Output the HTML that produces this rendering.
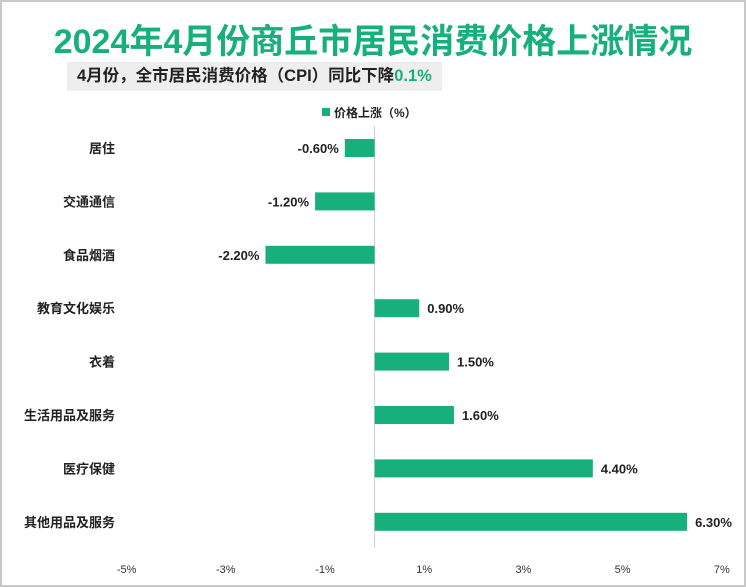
<!DOCTYPE html>
<html><head><meta charset="utf-8"><style>
body{margin:0;background:#fff;font-family:"Liberation Sans","Noto Sans CJK SC",sans-serif}
#wrap{position:relative;width:742px;height:583px;border:2px solid #c8c8c8;overflow:hidden}
#title{position:absolute;left:0;width:742px;top:12px;text-align:center;font-size:34px;font-weight:bold;color:#17b07c;letter-spacing:0px}
#sub{position:absolute;left:65px;top:60px;width:375px;height:29px;background:#eeeeee;font-size:16.5px;font-weight:bold;line-height:29px;padding-left:10px;box-sizing:border-box;color:#222;white-space:nowrap}
svg{position:absolute;left:0;top:0}
</style></head><body>
<div id="wrap">
<div id="title">2024年4月份商丘市居民消费价格上涨情况</div>
<div id="sub">4月份，全市居民消费价格（CPI）同比下降<span style="color:#17b07c">0.1%</span></div>
<svg id="c" width="742" height="583"></svg>
</div>
<script>
const categories=["居住","交通通信","食品烟酒","教育文化娱乐","衣着","生活用品及服务","医疗保健","其他用品及服务"];
const values=[-0.6,-1.2,-2.2,0.9,1.5,1.6,4.4,6.3];
const ticks=[-5,-3,-1,1,3,5,7];
const svg=document.getElementById('c');
const NS='http://www.w3.org/2000/svg';
const x=v=>372.6+v*49.6;
const y=i=>146+i*53.4;
function mk(t,a,txt){const e=document.createElementNS(NS,t);for(const k in a)e.setAttribute(k,a[k]);if(txt!=null)e.textContent=txt;svg.appendChild(e);return e;}
const ax=mk('line',{x1:x(0),x2:x(0),y1:124,y2:546,stroke:'#d0d0d0','stroke-width':1});


const lg=mk('rect',{x:320,y:106,width:8,height:8,fill:'#17b07c'});


const lt=mk('text',{x:332,y:115,'font-size':12,'font-weight':'bold',fill:'#222'},'价格上涨（%）');


categories.forEach((c,i)=>{
 const v=values[i],cy=y(i);
 const r=mk('rect',{x:Math.min(x(0),x(v)),y:cy-9,width:Math.abs(x(v)-x(0)),height:18,fill:'#17b07c'});
 
 
 const l=mk('text',{x:113,y:cy+5,'text-anchor':'end','font-size':13,'font-weight':'bold',fill:'#222'},c);
 
 
 const vx=v<0?x(v)-6:x(v)+8;
 const t=mk('text',{x:vx,y:cy+5,'text-anchor':v<0?'end':'start','font-size':13,'font-weight':'bold',fill:'#222'},v.toFixed(2)+'%');
 
 
});
ticks.forEach(t=>{
 const e=mk('text',{x:x(t),y:571,'text-anchor':'middle','font-size':11,fill:'#333'},t+'%');
 
 
});
</script>
</body></html>
